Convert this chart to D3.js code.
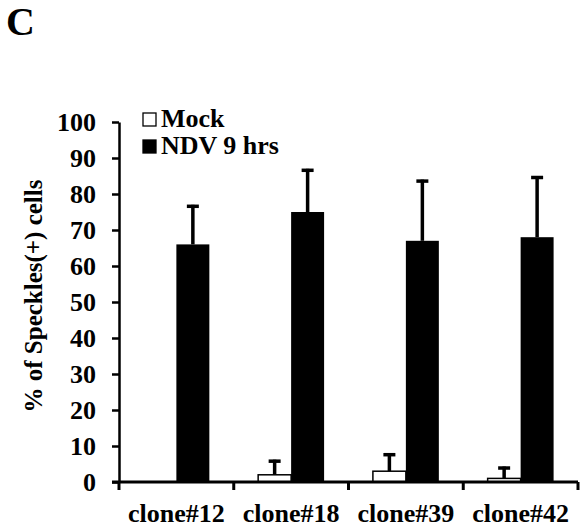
<!DOCTYPE html>
<meta charset="utf-8">
<style>
    body { margin: 0; background: #fff; }
    svg { display: block; }
    text { font-family: "Liberation Serif", "Times New Roman", serif; font-weight: bold; fill: #000; }
</style>
<script src="https://cdn.jsdelivr.net/npm/d3@7"></script>
<body>
<svg></svg>
</body>
<script>

    var clones = ["clone#12", "clone#18", "clone#39", "clone#42"];
    var series = ["Mock", "NDV 9 hrs"];
    var mockVals = [0, 2, 3, 1];
    var mockErr = [0, 4.2, 5, 3.3];
    var ndvVals = [66, 75, 67, 68];
    var ndvErr = [11, 12, 17, 17];
    var yTicks = [0, 10, 20, 30, 40, 50, 60, 70, 80, 90, 100];

    var W = 582, H = 532;
    var svg = d3.select('svg').attr('width', W).attr('height', H);

    var y = d3.scaleLinear().domain([0, 100]).range([482, 122]);
    var x = d3.scaleBand().domain(clones).range([119, 578]);
    var xs = d3.scaleBand().domain(series).range([0, x.bandwidth()])
            .paddingInner(0).paddingOuter(0.74);

    var rows = clones.map(function (c, i) {
        return [
            {clone: c, s: series[0], v: mockVals[i], e: mockErr[i]},
            {clone: c, s: series[1], v: ndvVals[i], e: ndvErr[i]}
        ];
    });
    var data = [].concat.apply([], rows);

    function cx(d) { return x(d.clone) + xs(d.s) + xs.bandwidth() / 2; }

    // error bars, one-sided
    var eb = svg.append('g').selectAll('g')
            .data(data.filter(function (d) { return d.e > 0; }))
            .enter().append('g');
    eb.append('line')
            .attr('x1', cx).attr('x2', cx)
            .attr('y1', function (d) { return y(d.v); })
            .attr('y2', function (d) { return y(d.v + d.e); })
            .style('stroke', '#000').style('stroke-width', 3.5);
    eb.append('line')
            .attr('x1', function (d) { return cx(d) - 6; })
            .attr('x2', function (d) { return cx(d) + 6; })
            .attr('y1', function (d) { return y(d.v + d.e) + 1.5; })
            .attr('y2', function (d) { return y(d.v + d.e) + 1.5; })
            .style('stroke', '#000').style('stroke-width', 3.5);

    svg.append('g').selectAll('rect')
            .data(data)
            .enter().append('rect')
            .attr('x', function (d) { return x(d.clone) + xs(d.s); })
            .attr('width', xs.bandwidth())
            .attr('y', function (d) { return y(d.v); })
            .attr('height', function (d) { return y(0) - y(d.v); })
            .style('fill', function (d) { return d.s === series[0] ? '#fff' : '#000'; })
            .style('stroke', '#000')
            .style('stroke-width', function (d) { return d.s === series[0] ? 1.5 : 0; });

    // y axis
    var yAxis = svg.append('g')
            .attr('transform', 'translate(119,0)')
            .call(d3.axisLeft(y).tickValues(yTicks).tickSize(7).tickSizeOuter(0).tickPadding(16));
    yAxis.selectAll('path, line').style('stroke', '#000').style('stroke-width', 2.5);
    yAxis.selectAll('text').style('font-size', '26px')
            .style('font-family', '"Liberation Serif", serif').style('font-weight', 'bold');

    // x axis
    var xAxis = svg.append('g')
            .attr('transform', 'translate(0,482)')
            .call(d3.axisBottom(x).tickSize(0).tickSizeOuter(0));
    xAxis.select('.domain').style('stroke', '#000').style('stroke-width', 3)
            .attr('d', 'M112,0H' + x.range()[1]);
    xAxis.selectAll('text')
            .attr('y', 40).attr('dy', null)
            .style('font-size', '26px')
            .style('font-family', '"Liberation Serif", serif').style('font-weight', 'bold');
    xAxis.selectAll('.edge')
            .data(d3.range(clones.length + 1))
            .enter().append('line')
            .attr('x1', function (i) { return x.range()[0] + i * x.step(); })
            .attr('x2', function (i) { return x.range()[0] + i * x.step(); })
            .attr('y1', 0).attr('y2', 8)
            .style('stroke', '#000').style('stroke-width', 3);

    // y label
    svg.append('text')
            .attr('transform', 'translate(42,296) rotate(-90)')
            .attr('text-anchor', 'middle')
            .style('font-size', '25px')
            .text('% of Speckles(+) cells');

    // legend
    var lg = svg.append('g').selectAll('g')
            .data(series)
            .enter().append('g')
            .attr('transform', function (d, i) { return 'translate(143,' + (113 + i * 27) + ')'; });
    lg.append('rect')
            .attr('width', 13).attr('height', 13)
            .style('fill', function (d, i) { return i === 0 ? '#fff' : '#000'; })
            .style('stroke', '#000').style('stroke-width', 1.3);
    lg.append('text')
            .attr('x', 18).attr('y', 14)
            .style('font-size', '26px')
            .text(function (d) { return d; });

    // panel letter
    svg.append('text')
            .attr('x', 6).attr('y', 35)
            .style('font-size', '40px')
            .text('C');

</script>
</html>
